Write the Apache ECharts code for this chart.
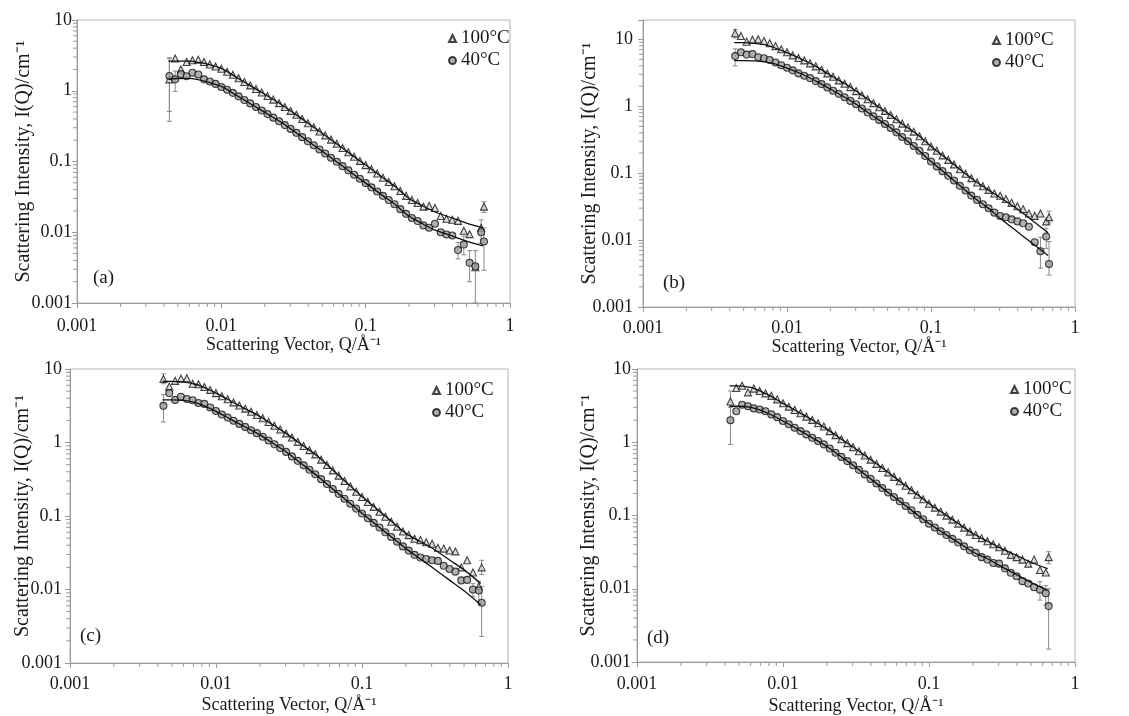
<!DOCTYPE html>
<html><head><meta charset="utf-8">
<script src="https://cdn.jsdelivr.net/npm/echarts@6/dist/echarts.min.js"></script>
<style>html,body{margin:0;padding:0;background:#fff}#c{width:1129px;height:716px}</style>
</head><body><div id="c"></div>
<script>
// ---- data ----
const Q = [0.004365,0.004786,0.005248,0.005754,0.006310,0.006918,0.007586,0.008318,0.009120,0.01,
0.01096,0.01202,0.01318,0.01445,0.01585,0.01738,0.01905,0.02089,0.02291,0.02512,
0.02754,0.03020,0.03311,0.03631,0.03981,0.04365,0.04786,0.05248,0.05754,0.06310,
0.06918,0.07586,0.08318,0.09120,0.1,0.1096,0.1202,0.1318,0.1445,0.1585,
0.1738,0.1905,0.2089,0.2291,0.2512,0.2754,0.3020,0.3311,0.3631,0.3981,
0.4365,0.4786,0.5248,0.5754,0.6310,0.66];
const fitQ = [0.0043,0.005,0.006,0.007,0.008,0.01,0.013,0.016,0.02,0.025,0.03,0.04,0.05,0.065,0.08,0.1,0.13,0.16,0.2,0.25,0.3,0.4,0.5,0.65];

const a100 = [1.45,2.85,2.0,2.55,2.7,2.75,2.55,2.35,2.2,2.05,
1.86,1.68,1.50,1.33,1.19,1.06,0.944,0.841,0.750,0.668,
0.589,0.519,0.457,0.398,0.347,0.305,0.266,0.234,0.204,0.178,
0.155,0.135,0.117,0.102,0.089,0.0776,0.0676,0.0589,0.0513,0.0447,
0.0382,0.0327,0.0286,0.0259,0.023,0.0235,0.022,0.017,0.0155,0.015,
0.0145,0.0105,0.0094,0.0032,0.0115,0.023];
const a40 = [1.62,1.45,1.72,1.6,1.8,1.7,1.45,1.35,1.25,1.13,
1.034,0.934,0.834,0.739,0.662,0.589,0.525,0.468,0.417,0.371,
0.327,0.289,0.254,0.221,0.193,0.170,0.148,0.130,0.113,0.099,
0.086,0.075,0.065,0.057,0.0495,0.0431,0.0376,0.0327,0.0285,0.0249,
0.0212,0.0182,0.0159,0.0144,0.0125,0.0116,0.0132,0.0100,0.0093,0.0090,
0.0056,0.0067,0.0037,0.0033,0.0100,0.0074];
const aFit100 = [2.63,2.63,2.62,2.51,2.37,2.07,1.51,1.17,0.891,0.676,0.525,0.347,0.251,0.170,0.124,0.0891,0.0603,0.0442,0.030,0.0235,0.0195,0.0158,0.0135,0.0115];
const aFit40 = [1.47,1.49,1.50,1.42,1.33,1.15,0.84,0.65,0.495,0.376,0.292,0.193,0.140,0.0945,0.069,0.0495,0.0335,0.0246,0.0168,0.0131,0.0108,0.0088,0.0075,0.0064];
const aErr = [[0.004365,0.37,2.9],[0.004365,0.51,2.9],[0.004786,0.98,1.9],[0.4365,0.0042,0.0072],[0.4786,0.0048,0.0088],[0.5248,0.002,0.0055],[0.5754,0.001,0.0055],[0.6310,0.007,0.015],[0.66,0.0029,0.0115],[0.66,0.019,0.027]];

const b100 = [12.3,11.2,9.2,9.8,10.0,9.4,8.7,7.9,7.1,6.4,
5.75,5.25,4.84,4.37,3.94,3.51,3.09,2.75,2.43,2.16,
1.93,1.68,1.46,1.27,1.11,0.966,0.851,0.741,0.638,0.550,
0.479,0.417,0.355,0.299,0.251,0.216,0.184,0.158,0.135,0.114,
0.0977,0.0841,0.0724,0.0638,0.0562,0.0495,0.046,0.041,0.036,0.032,
0.029,0.025,0.023,0.025,0.019,0.022];
const b40 = [5.6,6.4,5.9,6.0,5.4,5.2,4.9,4.5,4.1,3.75,
3.43,3.09,2.85,2.63,2.37,2.14,1.91,1.70,1.53,1.36,
1.20,1.07,0.923,0.804,0.705,0.624,0.543,0.473,0.407,0.347,
0.299,0.254,0.216,0.180,0.149,0.126,0.107,0.0912,0.0776,0.0646,
0.055,0.0462,0.0398,0.0343,0.0299,0.0257,0.0229,0.0219,0.0204,0.019,
0.0178,0.0158,0.0093,0.0068,0.0113,0.0044];
const bFit100 = [8.9,8.9,8.7,8.3,7.6,6.3,4.9,3.9,2.9,2.2,1.7,1.1,0.79,0.52,0.38,0.251,0.162,0.112,0.0776,0.0562,0.0437,0.0288,0.020,0.0129];
const bFit40 = [4.8,4.8,4.75,4.6,4.35,3.7,2.95,2.35,1.8,1.37,1.08,0.70,0.51,0.33,0.23,0.149,0.094,0.064,0.0426,0.030,0.0214,0.0132,0.0091,0.0059];
const bErr = [[0.004365,4.0,7.2],[0.004365,10.5,14],[0.5754,0.0038,0.011],[0.6310,0.0075,0.015],[0.66,0.003,0.0095],[0.66,0.018,0.027]];

const c100 = [7.3,5.8,6.9,7.4,7.5,6.3,6.2,5.7,5.2,4.7,
4.26,3.87,3.51,3.18,2.89,2.62,2.37,2.14,1.90,1.69,
1.50,1.33,1.17,1.02,0.897,0.787,0.69,0.584,0.494,0.418,
0.354,0.299,0.253,0.214,0.181,0.155,0.133,0.114,0.0977,0.0837,
0.0717,0.0615,0.055,0.049,0.047,0.044,0.042,0.037,0.036,0.034,
0.033,0.020,0.025,0.017,0.011,0.020];
const c40 = [3.15,4.7,3.8,4.2,3.9,3.75,3.45,3.35,3.0,2.68,
2.40,2.18,1.98,1.79,1.63,1.47,1.34,1.20,1.065,0.945,
0.839,0.745,0.647,0.563,0.489,0.425,0.369,0.317,0.272,0.233,
0.200,0.172,0.147,0.126,0.108,0.0934,0.0806,0.0696,0.0600,0.0518,
0.0447,0.0386,0.0338,0.0296,0.0272,0.026,0.025,0.0245,0.021,0.019,
0.0175,0.0133,0.0135,0.010,0.0097,0.0066];
const cFit100 = [6.8,6.8,6.7,6.3,5.8,4.7,3.56,2.85,2.26,1.70,1.34,0.89,0.645,0.40,0.275,0.184,0.119,0.084,0.058,0.045,0.037,0.025,0.0185,0.0121];
const cFit40 = [3.8,3.8,3.75,3.55,3.25,2.65,2.0,1.61,1.27,0.953,0.753,0.485,0.344,0.222,0.158,0.109,0.0716,0.0513,0.036,0.0262,0.0202,0.0133,0.0096,0.0062];
const cErr = [[0.004365,1.9,4.5],[0.004365,6.3,8.6],[0.5754,0.008,0.012],[0.6310,0.0068,0.013],[0.66,0.0023,0.011],[0.66,0.016,0.025]];

const d100 = [3.6,5.5,5.9,4.8,5.4,5.0,4.65,4.3,3.85,3.4,
3.06,2.76,2.49,2.24,2.02,1.82,1.64,1.42,1.25,1.10,
0.973,0.858,0.752,0.660,0.579,0.507,0.445,0.388,0.337,0.293,
0.255,0.221,0.192,0.167,0.145,0.128,0.113,0.0996,0.0878,0.0775,
0.0683,0.0603,0.0541,0.0491,0.0446,0.0405,0.0368,0.033,0.029,0.027,
0.025,0.022,0.025,0.018,0.0167,0.027];
const d40 = [2.0,2.65,3.25,3.1,2.9,2.8,2.65,2.4,2.2,1.95,
1.76,1.58,1.42,1.28,1.15,1.04,0.934,0.82,0.719,0.631,
0.553,0.485,0.42,0.364,0.316,0.274,0.237,0.206,0.179,0.156,
0.135,0.118,0.102,0.0888,0.0772,0.0686,0.0609,0.0541,0.048,0.0427,
0.0379,0.0336,0.0309,0.027,0.025,0.0225,0.022,0.019,0.0165,0.0148,
0.0127,0.0118,0.0105,0.0097,0.0087,0.0058];
const dFit100 = [5.9,5.9,5.6,5.0,4.4,3.4,2.53,2.0,1.51,1.11,0.87,0.577,0.418,0.28,0.204,0.146,0.102,0.077,0.0567,0.0449,0.037,0.0283,0.023,0.0188];
const dFit40 = [3.1,3.1,3.0,2.75,2.45,1.95,1.45,1.14,0.873,0.635,0.49,0.314,0.222,0.149,0.1086,0.0776,0.0553,0.0423,0.0317,0.0259,0.021,0.0155,0.0122,0.0095];
const dErr = [[0.004365,0.93,3.0],[0.004365,3.0,5.0],[0.5754,0.007,0.0125],[0.6310,0.006,0.011],[0.66,0.0015,0.010],[0.66,0.022,0.032]];

const xTickLabels = {'-3':'0.001','-2':'0.01','-1':'0.1','0':'1'};
const yTickLabels = {'-3':'0.001','-2':'0.01','-1':'0.1','0':'1','1':'10'};
const seriesNames = ['100°C','40°C'];
const panelLabels = ['(a)','(b)','(c)','(d)'];
const xTitle = 'Scattering Vector, Q/Å⁻¹';
const yTitle = 'Scattering Intensity, I(Q)/cm⁻¹';

// ---- layout ----
const FONT = '"Liberation Serif", "Times New Roman", serif';
const TXT = '#1a1a1a';
const AX = '#9a9a9a';
const panels = [
  {d100:a100,d40:a40,f100:aFit100,f40:aFit40,err:aErr,grid:{left:77,top:20,width:433,height:283},ymax:10,
   yMargin:5,yGap:43,xMargin:14,xGap:33,legend:{left:448,top:29},label:{left:93,top:269}},
  {d100:b100,d40:b40,f100:bFit100,f40:bFit40,err:bErr,grid:{left:643,top:20,width:432,height:287},ymax:19.4,
   yMargin:10,yGap:43,xMargin:12,xGap:31,legend:{left:992,top:31},label:{left:663,top:274}},
  {d100:c100,d40:c40,f100:cFit100,f40:cFit40,err:cErr,grid:{left:70,top:369,width:438,height:294},ymax:10,
   yMargin:8,yGap:37,xMargin:12,xGap:33,legend:{left:432,top:381},label:{left:80,top:627}},
  {d100:d100,d40:d40,f100:dFit100,f40:dFit40,err:dErr,grid:{left:637,top:369,width:438,height:293},ymax:10,
   yMargin:6,yGap:38,xMargin:13,xGap:35,legend:{left:1010,top:380},label:{left:647,top:629}}
];

function fmt(map){
  return function(v){
    const e = Math.log10(v), r = Math.round(e);
    return Math.abs(e - r) < 1e-6 && map[String(r)] !== undefined ? map[String(r)] : '';
  };
}
const xMinorVals = [], yMinorVals = [];
for (let e = -3; e <= -1; e++) for (let m = 2; m <= 9; m++) xMinorVals.push(+(m * Math.pow(10, e)).toPrecision(3));
for (let e = -3; e <= 0; e++) for (let m = 2; m <= 9; m++) yMinorVals.push(+(m * Math.pow(10, e)).toPrecision(3));

const option = {animation:false, backgroundColor:'#fff', grid:[], xAxis:[], yAxis:[], series:[], legend:[], graphic:[]};

panels.forEach((p, i) => {
  option.grid.push(Object.assign({show:true, borderColor:'#b4b4b4', borderWidth:1, backgroundColor:'transparent'}, p.grid));
  option.xAxis.push({type:'log', logBase:10, gridIndex:i, min:0.001, max:1,
    name:xTitle, nameLocation:'middle', nameGap:p.xGap, nameMoveOverlap:false,
    nameTextStyle:{fontFamily:FONT, fontSize:18, color:TXT},
    axisLine:{show:true, lineStyle:{color:AX, width:1}},
    axisTick:{show:true, length:5, lineStyle:{color:AX}},
    splitLine:{show:false},
    axisLabel:{fontFamily:FONT, fontSize:18, color:TXT, margin:p.xMargin, formatter:fmt(xTickLabels), showMinLabel:true, showMaxLabel:true}
  });
  option.yAxis.push({type:'log', logBase:10, gridIndex:i, min:0.001, max:p.ymax,
    name:yTitle, nameLocation:'middle', nameGap:p.yGap, nameRotate:90, nameMoveOverlap:false,
    nameTextStyle:{fontFamily:FONT, fontSize:20, color:TXT},
    axisLine:{show:true, lineStyle:{color:AX, width:1}},
    axisTick:{show:true, length:5, lineStyle:{color:AX}},
    splitLine:{show:false},
    axisLabel:{fontFamily:FONT, fontSize:18, color:TXT, margin:p.yMargin, formatter:fmt(yTickLabels), showMinLabel:true, showMaxLabel:true}
  });
  const ax = {xAxisIndex:i, yAxisIndex:i};
  // error bars
  option.series.push(Object.assign({type:'custom', name:'err'+i, clip:false, z:1, silent:true,
    encode:{x:0, y:[1,2]}, data:p.err,
    renderItem:function(params, api){
      const x = api.value(0), lo = api.value(1), hi = api.value(2);
      const a = api.coord([x, lo]), b = api.coord([x, hi]);
      const st = {stroke:'#8a8a8a', lineWidth:1};
      return {type:'group', children:[
        {type:'line', shape:{x1:a[0],y1:a[1],x2:b[0],y2:b[1]}, style:st},
        {type:'line', shape:{x1:a[0]-2.5,y1:a[1],x2:a[0]+2.5,y2:a[1]}, style:st},
        {type:'line', shape:{x1:b[0]-2.5,y1:b[1],x2:b[0]+2.5,y2:b[1]}, style:st}
      ]};
    }}, ax));
  // minor ticks
  option.series.push(Object.assign({type:'custom', name:'xminor'+i, clip:false, silent:true, z:1,
    data:xMinorVals.map(v => [v, 0.001]),
    renderItem:function(params, api){
      const pt = api.coord([api.value(0), api.value(1)]);
      return {type:'line', shape:{x1:pt[0],y1:pt[1],x2:pt[0],y2:pt[1]+4}, style:{stroke:AX, lineWidth:1}};
    }}, ax));
  option.series.push(Object.assign({type:'custom', name:'yminor'+i, clip:false, silent:true, z:1,
    data:yMinorVals.map(v => [0.001, v]),
    renderItem:function(params, api){
      const pt = api.coord([api.value(0), api.value(1)]);
      return {type:'line', shape:{x1:pt[0]-4,y1:pt[1],x2:pt[0],y2:pt[1]}, style:{stroke:AX, lineWidth:1}};
    }}, ax));
  // data points
  option.series.push(Object.assign({type:'scatter', name:seriesNames[0], z:3,
    data:Q.map((q,k) => [q, p.d100[k]]),
    symbol:'triangle', symbolSize:7,
    itemStyle:{color:'#d6d6d6', borderColor:'#151515', borderWidth:1.1}}, ax));
  option.series.push(Object.assign({type:'scatter', name:seriesNames[1], z:3,
    data:Q.map((q,k) => [q, p.d40[k]]),
    symbol:'circle', symbolSize:7,
    itemStyle:{color:'#9c9c9c', borderColor:'#151515', borderWidth:1.1}}, ax));
  // model fits
  [p.f100, p.f40].forEach((f, j) => {
    option.series.push(Object.assign({type:'line', name:'fit'+i+'_'+j, z:4, smooth:0.3, showSymbol:false, symbol:'none',
      data:fitQ.map((q,k) => [q, f[k]]),
      lineStyle:{color:'#111', width:1.3}}, ax));
  });
  option.legend.push({data:seriesNames, orient:'vertical', left:p.legend.left, top:p.legend.top,
    itemWidth:7, itemHeight:7, itemGap:3, padding:0, selectedMode:false,
    textStyle:{fontFamily:FONT, fontSize:19, color:TXT, padding:[0,0,0,0]}});
  option.graphic.push({type:'text', left:p.label.left, top:p.label.top,
    style:{text:panelLabels[i], font:'19px ' + FONT, fill:TXT}});
});

const chart = echarts.init(document.getElementById('c'), null, {renderer:'canvas'});
chart.setOption(option);
</script></body></html>
